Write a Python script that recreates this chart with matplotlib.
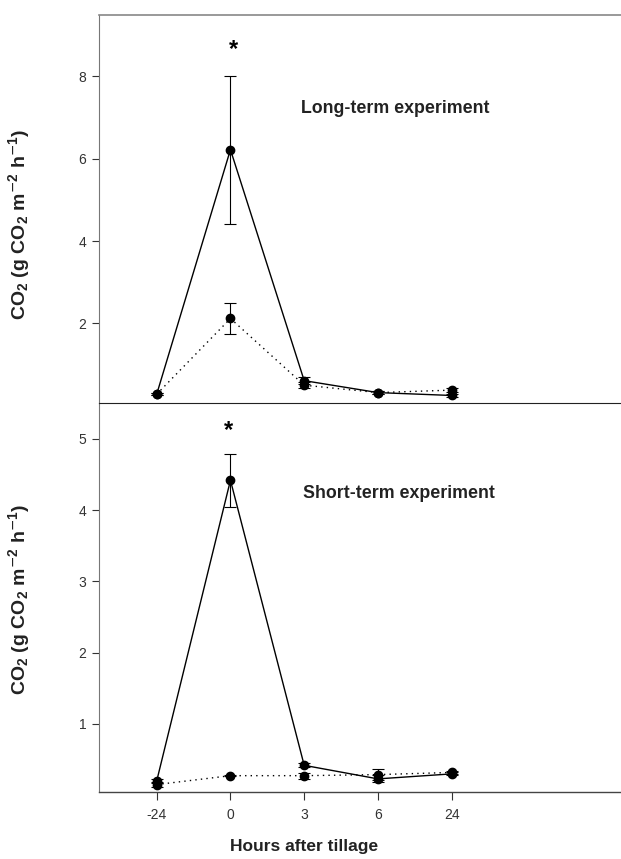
import matplotlib
matplotlib.use("Agg")
import matplotlib.pyplot as plt
import numpy as np

plt.rcParams['font.family'] = ['Liberation Sans', 'DejaVu Sans']
plt.rcParams['mathtext.fontset'] = 'custom'
plt.rcParams['mathtext.rm'] = 'Liberation Sans'
plt.rcParams['mathtext.bf'] = 'Liberation Sans:bold'
plt.rcParams['mathtext.default'] = 'bf'

# ---- data ----
x_labels = ['-24', '0', '3', '6', '24']

long_solid = [0.28, 6.22, 0.61, 0.32, 0.25]
long_solid_err = [0.03, 1.80, 0.08, 0.03, 0.04]
long_dotted = [0.28, 2.12, 0.50, 0.32, 0.38]
long_dotted_err = [0.03, 0.38, 0.07, 0.03, 0.04]

short_solid = [0.20, 4.42, 0.42, 0.23, 0.30]
short_solid_err = [0.03, 0.37, 0.03, 0.05, 0.02]
short_dotted = [0.15, 0.275, 0.275, 0.29, 0.32]
short_dotted_err = [0.03, 0.01, 0.04, 0.08, 0.02]

star_long_y = 8.66
star_short_y = 5.12

ylabel = r'CO$_2$ (g CO$_2$ m$^{\mathsf{-}2}$ h$^{\mathsf{-}1}$)'

fig = plt.figure(figsize=(6.21, 8.59), dpi=100)
L = 99 / 621
W = 1.0 - L
ax1 = fig.add_axes([L, 1 - 403.3 / 859, W, (403.3 - 15) / 859])
ax2 = fig.add_axes([L, 1 - 791.7 / 859, W, (791.7 - 403.3) / 859])

pos = np.arange(1, len(x_labels) + 1)

def draw(ax, solid, serr, dotted, derr):
    ax.errorbar(pos, dotted, yerr=derr, color='black', linestyle=(0, (1, 3)),
                linewidth=1.0, marker='o', markersize=6, capsize=4,
                elinewidth=0.8, capthick=0.8, zorder=3)
    ax.errorbar(pos, solid, yerr=serr, color='black', linestyle='-',
                linewidth=1.0, marker='o', markersize=6, capsize=4,
                elinewidth=0.8, capthick=0.8, zorder=4)
    ax.set_xlim(0.2176, 7.296)
    ax.spines['right'].set_visible(False)
    ax.spines['left'].set_color('#777777')
    ax.tick_params(axis='y', direction='out', length=5, width=0.8,
                   colors='#333333', labelsize=10, pad=4)
    ax.tick_params(axis='x', direction='out', length=6, width=0.8,
                   colors='#333333', labelsize=10, pad=6)

draw(ax1, long_solid, long_solid_err, long_dotted, long_dotted_err)
draw(ax2, short_solid, short_solid_err, short_dotted, short_dotted_err)

ax1.set_ylim(0.06, 9.49)
ax1.set_yticks([2, 4, 6, 8])
ax1.set_xticks([])
ax1.spines['top'].set_color('#888888')
ax1.spines['top'].set_linewidth(1.2)
ax1.spines['bottom'].set_visible(False)

ax2.set_ylim(0.05, 5.5)
ax2.set_yticks([1, 2, 3, 4, 5])
ax2.set_xticks(pos)
ax2.set_xticklabels(x_labels)
ax2.spines['top'].set_color('#222222')
ax2.spines['bottom'].set_color('#444444')
ax2.spines['bottom'].set_linewidth(1.0)

ax1.text(2.04, star_long_y, '*', ha='center', va='center', fontsize=17, fontweight='bold')
ax2.text(1.98, star_short_y, '*', ha='center', va='center', fontsize=17, fontweight='bold')

ax1.text(4.23, 7.23, 'Long-term experiment', ha='center', va='center',
         fontsize=12.8, fontweight='bold', color='#222222')
ax2.text(4.29, 4.24, 'Short-term experiment', ha='center', va='center',
         fontsize=12.8, fontweight='bold', color='#222222')

for ax, yc in ((ax1, 0.46), (ax2, 0.494)):
    ax.set_ylabel(ylabel, fontsize=14, fontweight='bold', color='#222222')
    ax.yaxis.set_label_coords(-0.128, yc)

fig.text(304 / 621, 1 - 847 / 859, 'Hours after tillage', ha='center', va='center',
         fontsize=12.5, fontweight='bold', color='#222222')

fig.savefig('out.png', dpi=100)
